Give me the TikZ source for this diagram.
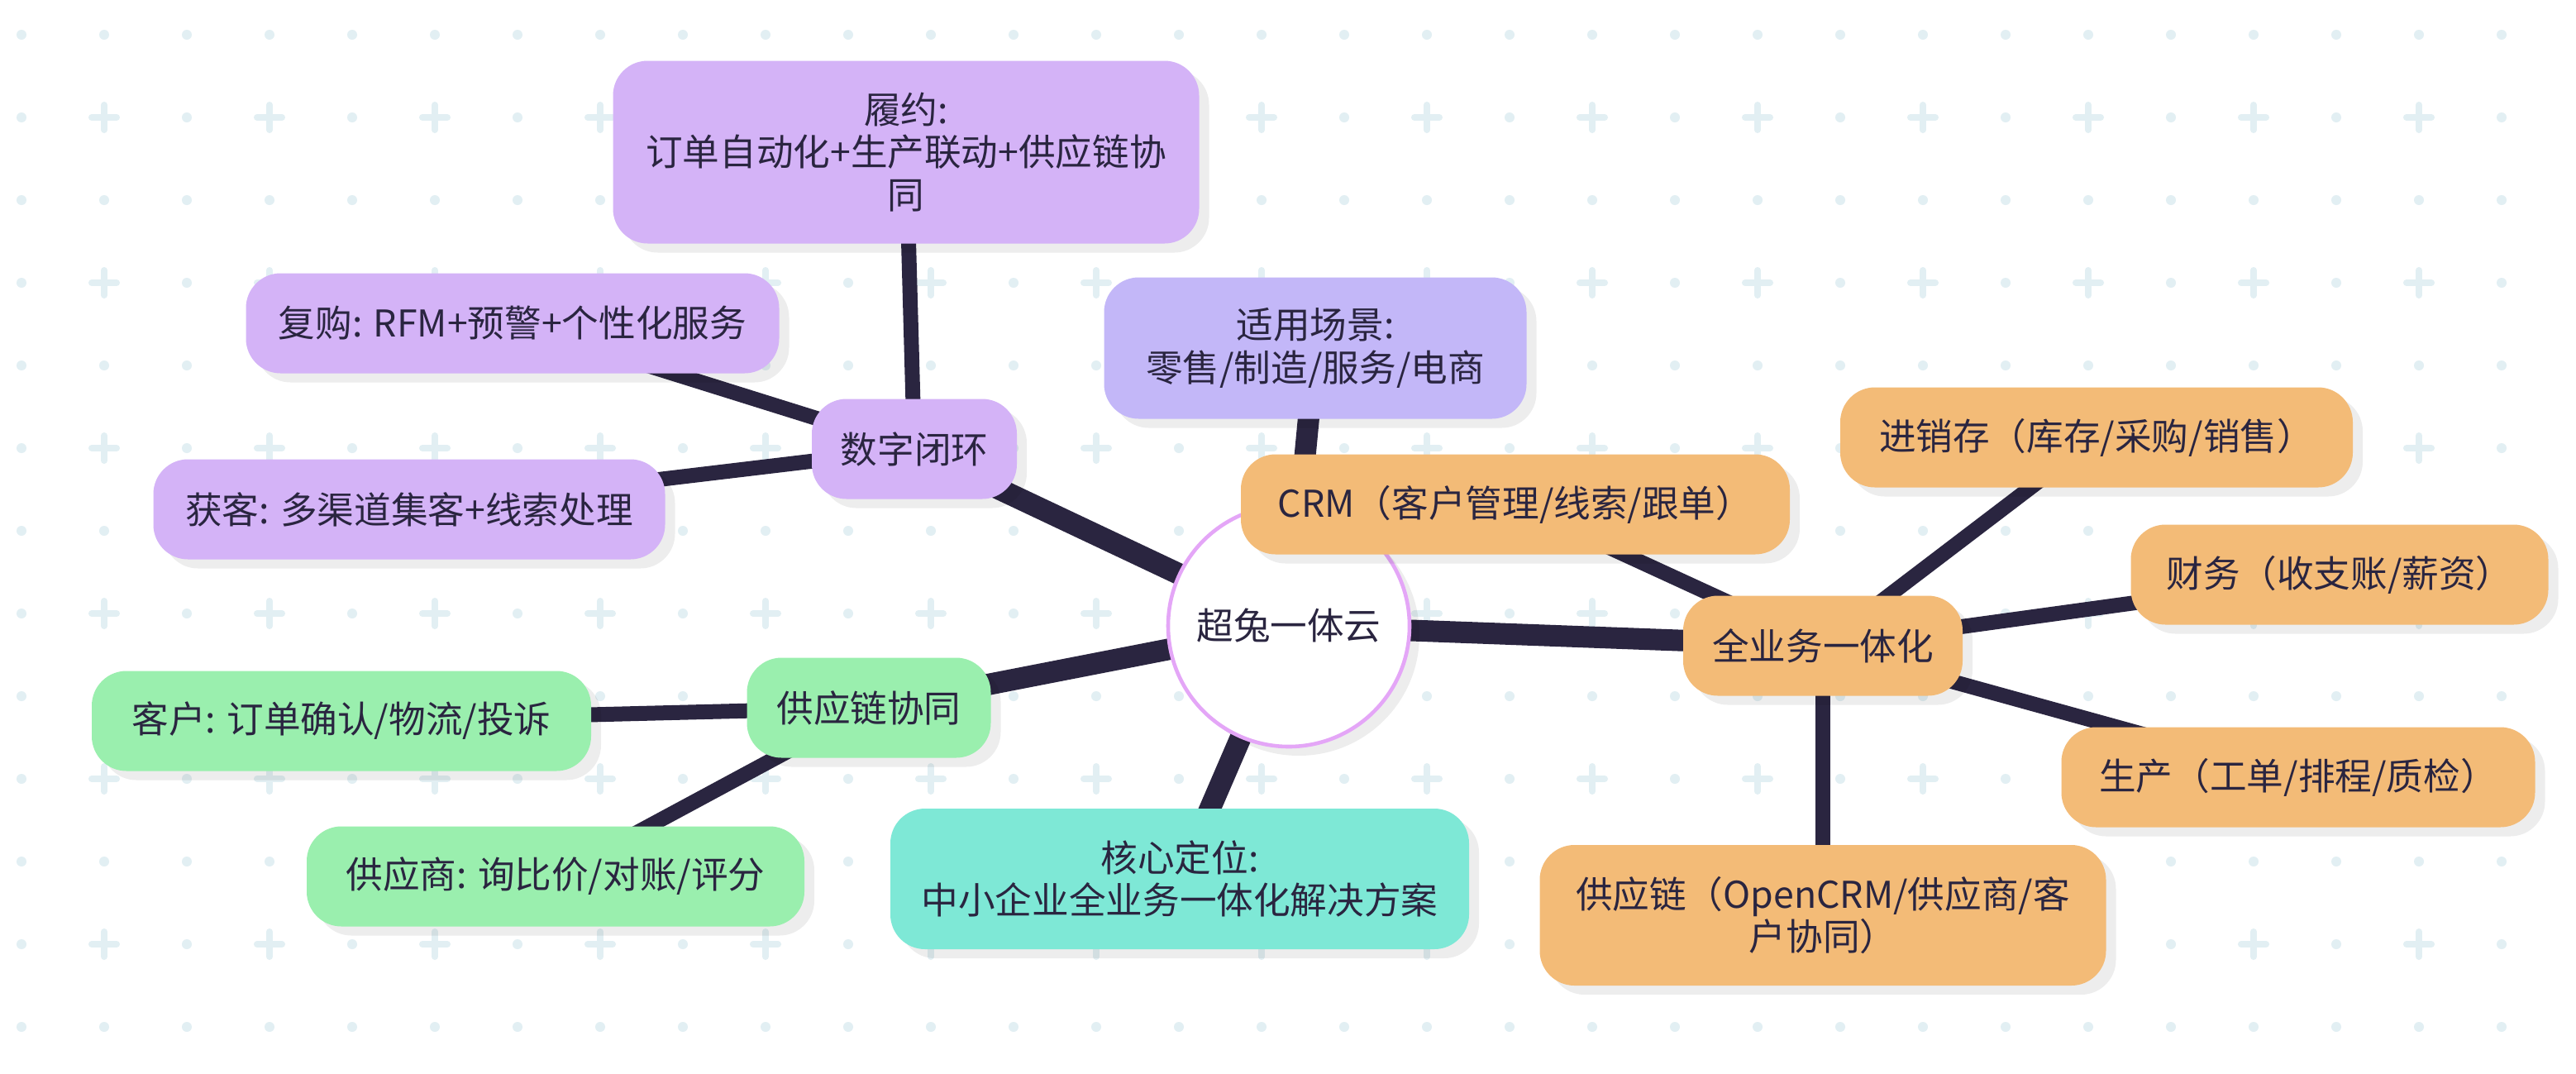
\documentclass[tikz,border=0pt]{standalone}
\usepackage{fontspec}
\setmainfont{Noto Sans CJK SC}
\usetikzlibrary{shadows}
\definecolor{ink}{HTML}{2A2540}
\definecolor{lav}{HTML}{D4B3F7}
\definecolor{peri}{HTML}{C3B7F8}
\definecolor{orng}{HTML}{F3BB77}
\definecolor{grn}{HTML}{9AEFAE}
\definecolor{tealc}{HTML}{7EE8D6}
\definecolor{ringc}{HTML}{E4A6F7}
\definecolor{gridc}{HTML}{E2EFF3}
\pgfdeclarelayer{bg}
\pgfdeclarelayer{edges}
\pgfsetlayers{bg,edges,main}
\begin{document}
\begin{tikzpicture}[
  font=\fontsize{12.7pt}{14.6pt}\selectfont,
  shad/.style={drop shadow={shadow xshift=0.12cm, shadow yshift=-0.11cm, fill=black, opacity=0.07}},
  box/.style={rounded corners=0.42cm, inner sep=0pt, align=center, text=ink, minimum height=1.21cm, shad},
  lone/.style={line width=0.26cm, draw=ink},
  ltwo/.style={line width=0.18cm, draw=ink},
  griddot/.style={fill=gridc},
  gridplus/.style={draw=gridc, line width=0.08cm, line cap=round}
]
\useasboundingbox (0,0) rectangle (31.16,-12.98);
\begin{pgfonlayer}{bg}
  \fill[white] (0,0) rectangle (31.16,-12.98);
  \foreach \i in {0,...,30} \foreach \j in {0,2,...,12}
    \fill[griddot] (0.26+\i,-0.42-\j) circle (0.06);
  \foreach \i in {0,2,...,30} \foreach \j in {1,3,...,11}
    \fill[griddot] (0.26+\i,-0.42-\j) circle (0.06);
  \foreach \i in {1,3,...,29} \foreach \j in {1,3,...,11}
    \draw[gridplus] (0.26+\i-0.15,-0.42-\j) -- (0.26+\i+0.15,-0.42-\j)
                    (0.26+\i,-0.42-\j-0.15) -- (0.26+\i,-0.42-\j+0.15);
\end{pgfonlayer}

\node[circle, draw=ringc, line width=1.3pt, fill=white, minimum size=2.92cm, inner sep=0pt, text=ink, shad] (root) at (15.59,-7.57) {超兔一体云};

\node[box, fill=lav, minimum width=7.09cm, minimum height=2.21cm] (lvyue) at (10.96,-1.84) {履约:\\订单自动化+生产联动+供应链协\\同};
\node[box, fill=lav, minimum width=6.45cm] (fugou) at (6.20,-3.91) {复购: RFM+预警+个性化服务};
\node[box, fill=lav, minimum width=6.19cm] (huoke) at (4.95,-6.16) {获客: 多渠道集客+线索处理};
\node[box, fill=lav, minimum width=2.48cm] (shuzi) at (11.06,-5.43) {数字闭环};
\node[box, fill=peri, minimum width=5.11cm, minimum height=1.71cm] (scene) at (15.91,-4.21) {适用场景:\\零售/制造/服务/电商};
\node[box, fill=orng, minimum width=6.64cm] (crm) at (18.33,-6.10) {CRM（客户管理/线索/跟单）};
\node[box, fill=orng, minimum width=3.38cm] (allbiz) at (22.05,-7.81) {全业务一体化};
\node[box, fill=orng, minimum width=6.20cm] (jxc) at (25.36,-5.29) {进销存（库存/采购/销售）};
\node[box, fill=orng, minimum width=5.05cm] (fin) at (28.30,-6.95) {财务（收支账/薪资）};
\node[box, fill=orng, minimum width=5.73cm] (prod) at (27.80,-9.40) {生产（工单/排程/质检）};
\node[box, fill=orng, minimum width=6.85cm, minimum height=1.70cm] (supply) at (22.05,-11.07) {供应链（OpenCRM/供应商/客\\户协同）};
\node[box, fill=tealc, minimum width=7.00cm, minimum height=1.70cm] (core) at (14.27,-10.63) {核心定位:\\中小企业全业务一体化解决方案};
\node[box, fill=grn, minimum width=2.95cm] (sc) at (10.51,-8.56) {供应链协同};
\node[box, fill=grn, minimum width=6.04cm] (cust) at (4.13,-8.72) {客户: 订单确认/物流/投诉};
\node[box, fill=grn, minimum width=6.02cm] (vend) at (6.72,-10.60) {供应商: 询比价/对账/评分};

\begin{pgfonlayer}{edges}
  \draw[lone] (root.center) -- (shuzi.center);
  \draw[lone] (root.center) -- (scene.center);
  \draw[lone] (root.center) -- (allbiz.center);
  \draw[lone] (root.center) -- (core.center);
  \draw[lone] (root.center) -- (sc.center);
  \draw[ltwo] (shuzi.center) -- (lvyue.center);
  \draw[ltwo] (shuzi.center) -- (fugou.center);
  \draw[ltwo] (shuzi.center) -- (huoke.center);
  \draw[ltwo] (allbiz.center) -- (crm.center);
  \draw[ltwo] (allbiz.center) -- (jxc.center);
  \draw[ltwo] (allbiz.center) -- (fin.center);
  \draw[ltwo] (allbiz.center) -- (prod.center);
  \draw[ltwo] (allbiz.center) -- (supply.center);
  \draw[ltwo] (sc.center) -- (cust.center);
  \draw[ltwo] (sc.center) -- (vend.center);
\end{pgfonlayer}
\end{tikzpicture}
\end{document}
